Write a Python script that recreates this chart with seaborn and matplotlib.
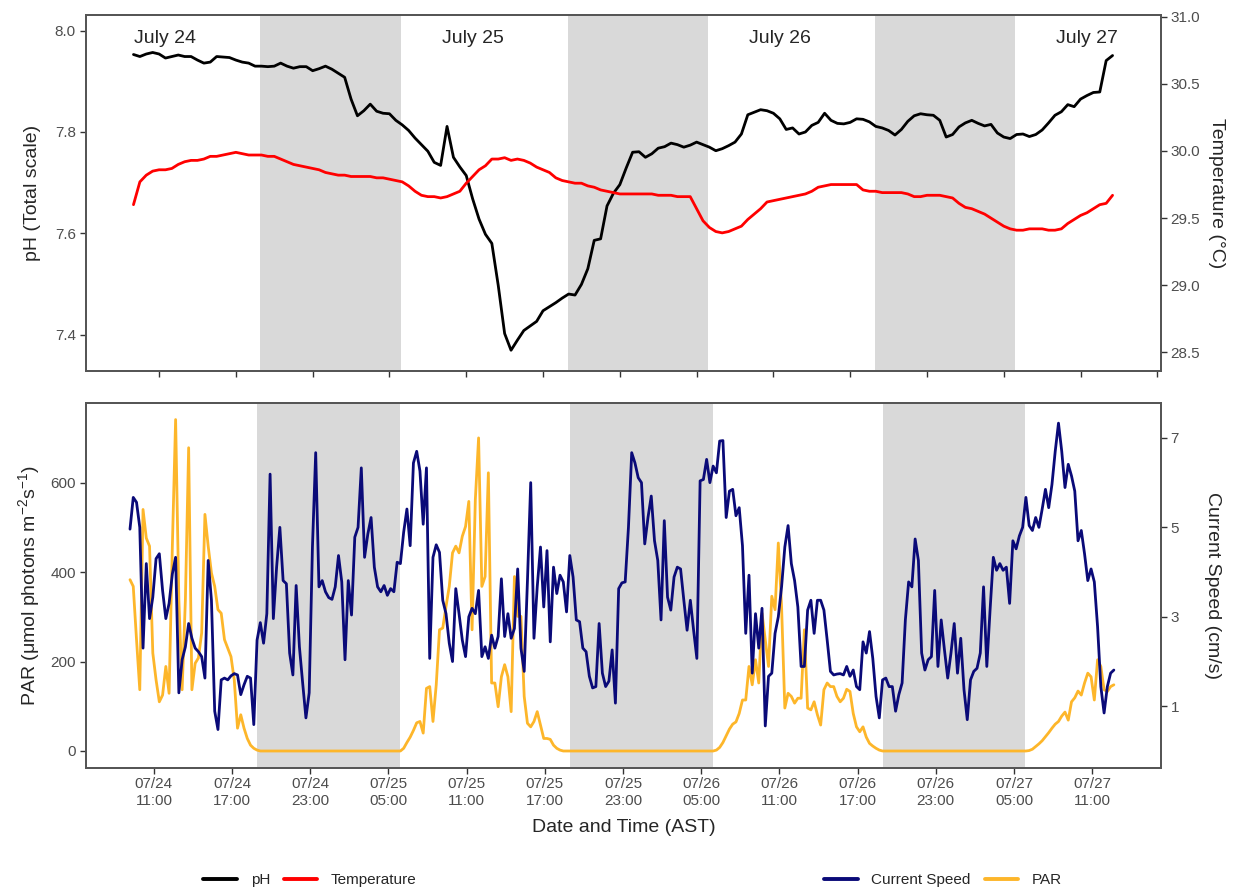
import pandas as pd
import seaborn as sns
import matplotlib.pyplot as plt
import matplotlib.dates as mdates
from matplotlib.lines import Line2D

sns.set_style("white")
plt.rcParams["font.family"] = ["Liberation Sans", "DejaVu Sans"]
plt.rcParams["mathtext.default"] = "regular"

# top panel: pH and temperature, one reading every 30 min from 07/24 09:00
top_start = "2019-07-24 09:00"
ph = [7.953, 7.949, 7.954, 7.957, 7.954, 7.946, 7.949, 7.952, 7.949, 7.949,
      7.942, 7.936, 7.938, 7.949, 7.948, 7.947, 7.942, 7.938, 7.936, 7.930,
      7.930, 7.929, 7.930, 7.936, 7.930, 7.926, 7.929, 7.929, 7.921, 7.925,
      7.930, 7.924, 7.916, 7.908, 7.865, 7.832, 7.842, 7.855, 7.841, 7.837,
      7.836, 7.823, 7.814, 7.803, 7.788, 7.775, 7.762, 7.740, 7.734, 7.811,
      7.750, 7.731, 7.714, 7.668, 7.628, 7.598, 7.580, 7.497, 7.402, 7.369,
      7.389, 7.408, 7.417, 7.426, 7.447, 7.455, 7.463, 7.472, 7.480, 7.478,
      7.499, 7.530, 7.586, 7.589, 7.654, 7.679, 7.696, 7.729, 7.760, 7.761,
      7.750, 7.757, 7.768, 7.771, 7.778, 7.775, 7.770, 7.774, 7.780, 7.775,
      7.770, 7.763, 7.767, 7.773, 7.780, 7.796, 7.834, 7.839, 7.844, 7.842,
      7.837, 7.826, 7.805, 7.808, 7.796, 7.800, 7.813, 7.819, 7.837, 7.823,
      7.817, 7.816, 7.819, 7.826, 7.825, 7.820, 7.811, 7.808, 7.803, 7.794,
      7.805, 7.821, 7.832, 7.836, 7.834, 7.833, 7.823, 7.790, 7.795, 7.810,
      7.818, 7.823, 7.817, 7.812, 7.815, 7.798, 7.790, 7.787, 7.795, 7.796,
      7.791, 7.795, 7.804, 7.818, 7.833, 7.840, 7.854, 7.850, 7.865, 7.872,
      7.878, 7.879, 7.941, 7.951]
temp = [29.60, 29.77, 29.82, 29.85, 29.86, 29.86, 29.87, 29.90, 29.92, 29.93,
        29.93, 29.94, 29.96, 29.96, 29.97, 29.98, 29.99, 29.98, 29.97, 29.97,
        29.97, 29.96, 29.96, 29.94, 29.92, 29.90, 29.89, 29.88, 29.87, 29.86,
        29.84, 29.83, 29.82, 29.82, 29.81, 29.81, 29.81, 29.81, 29.80, 29.80,
        29.79, 29.78, 29.77, 29.74, 29.70, 29.67, 29.66, 29.66, 29.65, 29.66,
        29.68, 29.70, 29.76, 29.81, 29.86, 29.89, 29.94, 29.94, 29.95, 29.93,
        29.94, 29.93, 29.91, 29.88, 29.86, 29.84, 29.80, 29.78, 29.77, 29.76,
        29.76, 29.74, 29.73, 29.71, 29.70, 29.69, 29.68, 29.68, 29.68, 29.68,
        29.68, 29.68, 29.67, 29.67, 29.67, 29.66, 29.66, 29.66, 29.57, 29.48,
        29.43, 29.40, 29.39, 29.40, 29.42, 29.44, 29.49, 29.53, 29.57, 29.62,
        29.63, 29.64, 29.65, 29.66, 29.67, 29.68, 29.70, 29.73, 29.74, 29.75,
        29.75, 29.75, 29.75, 29.75, 29.71, 29.70, 29.70, 29.69, 29.69, 29.69,
        29.69, 29.68, 29.66, 29.66, 29.67, 29.67, 29.67, 29.66, 29.65, 29.61,
        29.58, 29.57, 29.55, 29.53, 29.50, 29.47, 29.44, 29.42, 29.41, 29.41,
        29.42, 29.42, 29.42, 29.41, 29.41, 29.42, 29.46, 29.49, 29.52, 29.54,
        29.57, 29.60, 29.61, 29.67]

# bottom panel: current speed (cm/s) and PAR, one reading every 15 min from 07/24 09:10
bot_start = "2019-07-24 09:10"
speed = [4.96, 5.67, 5.56, 5.00, 2.30, 4.19, 2.96, 3.44, 4.30, 4.41,
         3.59, 2.96, 3.30, 3.96, 4.33, 1.30, 2.04, 2.33, 2.85, 2.52,
         2.30, 2.22, 2.11, 1.63, 4.26, 3.37, 0.89, 0.48, 1.59, 1.63,
         1.59, 1.68, 1.73, 1.70, 1.26, 1.48, 1.67, 1.63, 0.59, 2.48,
         2.87, 2.41, 3.07, 6.19, 2.96, 4.11, 5.00, 3.81, 3.74, 2.19,
         1.70, 3.70, 2.33, 1.52, 0.74, 1.30, 4.56, 6.67, 3.67, 3.81,
         3.56, 3.43, 3.39, 3.67, 4.37, 3.78, 2.04, 3.81, 3.04, 4.78,
         5.00, 6.33, 4.33, 4.85, 5.22, 4.11, 3.67, 3.56, 3.70, 3.48,
         3.63, 3.56, 4.22, 4.19, 4.89, 5.41, 4.59, 6.44, 6.70, 6.26,
         5.07, 6.33, 2.07, 4.33, 4.61, 4.44, 3.37, 3.07, 2.41, 2.00,
         3.63, 3.07, 2.48, 2.11, 3.00, 3.19, 3.07, 3.59, 2.11, 2.33,
         2.07, 2.59, 2.30, 2.56, 3.85, 2.56, 3.07, 2.52, 2.74, 4.07,
         2.30, 1.78, 3.81, 6.00, 2.52, 3.67, 4.56, 3.22, 4.48, 2.44,
         4.11, 3.52, 3.93, 3.78, 3.11, 4.37, 3.89, 2.93, 2.89, 2.30,
         2.22, 1.67, 1.41, 1.44, 2.85, 1.74, 1.44, 1.56, 2.26, 1.07,
         3.63, 3.76, 3.78, 5.00, 6.67, 6.44, 6.11, 6.00, 4.63, 5.22,
         5.70, 4.70, 4.26, 2.93, 5.15, 3.44, 3.15, 3.89, 4.11, 4.07,
         3.37, 2.70, 3.37, 2.70, 2.07, 6.04, 6.07, 6.52, 6.00, 6.37,
         6.22, 6.93, 6.94, 5.22, 5.81, 5.85, 5.26, 5.44, 4.59, 2.63,
         3.93, 1.74, 3.07, 2.30, 3.19, 0.56, 1.67, 1.74, 2.63, 3.00,
         3.67, 4.56, 5.04, 4.19, 3.81, 3.22, 1.89, 1.89, 3.15, 3.37,
         2.63, 3.37, 3.37, 3.15, 2.48, 1.78, 1.70, 1.72, 1.73, 1.70,
         1.89, 1.67, 1.81, 1.44, 1.37, 2.44, 2.19, 2.67, 2.07, 1.22,
         0.74, 1.59, 1.63, 1.44, 1.44, 0.89, 1.26, 1.52, 2.93, 3.78,
         3.67, 4.74, 4.26, 2.19, 1.81, 2.04, 2.11, 3.59, 1.89, 2.93,
         2.26, 1.63, 2.19, 2.85, 1.74, 2.52, 1.37, 0.70, 1.59, 1.78,
         1.85, 2.19, 3.67, 1.89, 3.15, 4.33, 4.04, 4.19, 4.04, 4.11,
         3.30, 4.70, 4.52, 4.81, 5.00, 5.67, 5.04, 4.93, 5.22, 5.00,
         5.41, 5.85, 5.44, 5.96, 6.70, 7.33, 6.70, 5.89, 6.41, 6.15,
         5.81, 4.70, 4.93, 4.41, 3.81, 4.07, 3.78, 2.78, 1.44, 0.85,
         1.44, 1.74, 1.81]
par = ([383, 368, 249, 137, 540, 476, 458, 219, 159, 110,
        125, 189, 129, 458, 741, 338, 137, 338, 678, 137,
        196, 208, 264, 529, 458, 398, 368, 316, 308, 249,
        230, 211, 159, 51, 81, 51, 28, 13, 6, 2]
       + [0] * 43
       + [0, 6, 19, 31, 46, 63, 66,
          40, 140, 144, 66, 148, 271, 275, 323, 368, 443,
          458, 443, 480, 502, 558, 271, 562, 700, 368, 390,
          622, 152, 152, 99, 166, 193, 166, 88, 390, 301,
          301, 122, 62, 54, 66, 88, 58, 28, 28, 26,
          13, 6, 2]
       + [0] * 46
       + [0, 2, 8, 19, 34, 49, 60, 65, 84, 114, 114,
          189, 148, 204, 152, 308, 249, 189, 346, 316, 465,
          323, 96, 129, 122, 107, 118, 118, 271, 96, 92,
          110, 81, 58, 137, 152, 144, 144, 122, 110, 118,
          138, 133, 84, 54, 43, 54, 31, 17, 11, 6, 2]
       + [0] * 44
       + [0, 1, 4, 10, 16, 23, 32, 41, 51, 60, 66, 78, 87, 69, 110,
          119, 134, 125, 152, 174, 166, 114, 204, 189, 137, 133, 144, 148])

night_start = ["2019-07-24 18:55", "2019-07-25 18:55", "2019-07-26 18:55"]
night_end = ["2019-07-25 05:53", "2019-07-26 05:53", "2019-07-27 05:53"]
day_labels = ["July 24", "July 25", "July 26", "July 27"]
day_label_times = ["2019-07-24 11:30", "2019-07-25 11:30",
                   "2019-07-26 11:30", "2019-07-27 11:30"]

top = pd.DataFrame({"time": pd.date_range(top_start, periods=len(ph), freq="30min"),
                    "pH": ph, "Temperature": temp})
bot = pd.DataFrame({"time": pd.date_range(bot_start, periods=len(speed), freq="15min"),
                    "Current Speed": speed, "PAR": par})

tick_grey = "#4D4D4D"
frame_grey = "#555555"
night_grey = "#D9D9D9"
c_ph, c_temp, c_speed, c_par = "black", "#FF0000", "#0A0A78", "#FDB62A"

fig = plt.figure(figsize=(12.33, 8.88), dpi=100)
ax1 = fig.add_axes([0.0695, 0.5822, 0.8721, 0.4009])
ax2 = ax1.twinx()
ax3 = fig.add_axes([0.0695, 0.1355, 0.8721, 0.411])
ax4 = ax3.twinx()

# night shading
for s, e in zip(night_start, night_end):
    ax1.axvspan(pd.Timestamp(s), pd.Timestamp(e), color=night_grey, lw=0, zorder=0)
    ax3.axvspan(pd.Timestamp(s), pd.Timestamp(e), color=night_grey, lw=0, zorder=0)

sns.lineplot(data=top, x="time", y="pH", ax=ax1, color=c_ph, lw=2.0)
sns.lineplot(data=top, x="time", y="Temperature", ax=ax2, color=c_temp, lw=2.0)
sns.lineplot(data=bot, x="time", y="PAR", ax=ax3, color=c_par, lw=2.0)
sns.lineplot(data=bot, x="time", y="Current Speed", ax=ax4, color=c_speed, lw=2.0)

for t, lab in zip(day_label_times, day_labels):
    ax1.text(pd.Timestamp(t), 7.984, lab, fontsize=14, ha="center", va="center")

# limits
ax1.set_xlim(pd.Timestamp("2019-07-24 05:16"), pd.Timestamp("2019-07-27 17:17"))
ax1.set_ylim(7.328, 8.031)
ax2.set_ylim(28.361, 31.013)
ax3.set_xlim(pd.Timestamp("2019-07-24 05:46"), pd.Timestamp("2019-07-27 16:17"))
ax3.set_ylim(-37.3, 778.7)
ax4.set_ylim(-0.373, 7.787)

ax1.set_yticks([7.4, 7.6, 7.8, 8.0])
ax1.set_yticklabels(["7.4", "7.6", "7.8", "8.0"])
ax2.set_yticks([28.5, 29.0, 29.5, 30.0, 30.5, 31.0])
ax2.set_yticklabels(["28.5", "29.0", "29.5", "30.0", "30.5", "31.0"])
ax3.set_yticks([0, 200, 400, 600])
ax4.set_yticks([1, 3, 5, 7])

ax1.xaxis.set_major_locator(mdates.HourLocator(byhour=[5, 11, 17, 23]))
ax1.xaxis.set_major_formatter(plt.NullFormatter())
ax3.xaxis.set_major_locator(mdates.HourLocator(byhour=[5, 11, 17, 23]))
ax3.xaxis.set_major_formatter(mdates.DateFormatter("%m/%d\n%H:%M"))

for ax in (ax1, ax2, ax3, ax4):
    ax.tick_params(direction="out", length=4, width=1, color="#333333",
                   labelcolor=tick_grey, labelsize=11, pad=3)
    for sp in ax.spines.values():
        sp.set_color(frame_grey)
        sp.set_linewidth(1.3)
    ax.set_xlabel("")
ax1.tick_params(axis="y", left=True, right=False)
ax3.tick_params(axis="y", left=True, right=False)
ax1.tick_params(axis="x", bottom=True)
ax3.tick_params(axis="x", bottom=True)
for tl in ax3.get_xticklabels():
    tl.set_ha("center")

ax1.set_ylabel("pH (Total scale)", fontsize=14, labelpad=10)
ax2.set_ylabel("Temperature (°C)", fontsize=14, rotation=270, labelpad=18)
ax3.set_ylabel("PAR (μmol photons m$^{-2}$s$^{-1}$)", fontsize=14, labelpad=6)
ax4.set_ylabel("Current Speed (cm/s)", fontsize=14, rotation=270, labelpad=30)
ax3.set_xlabel("Date and Time (AST)", fontsize=14, labelpad=8)

h1 = [Line2D([], [], color=c_ph, lw=2.8), Line2D([], [], color=c_temp, lw=2.8)]
h2 = [Line2D([], [], color=c_speed, lw=2.8), Line2D([], [], color=c_par, lw=2.8)]
leg_kw = dict(ncol=2, loc="center", frameon=False, fontsize=11, handlelength=2.2,
              handletextpad=0.9, columnspacing=0.9)
fig.legend(h1, ["pH", "Temperature"], bbox_to_anchor=(310 / 1233, 1 - 880 / 888), **leg_kw)
fig.legend(h2, ["Current Speed", "PAR"], bbox_to_anchor=(943 / 1233, 1 - 880 / 888), **leg_kw)

fig.savefig("out.png", dpi=100)
